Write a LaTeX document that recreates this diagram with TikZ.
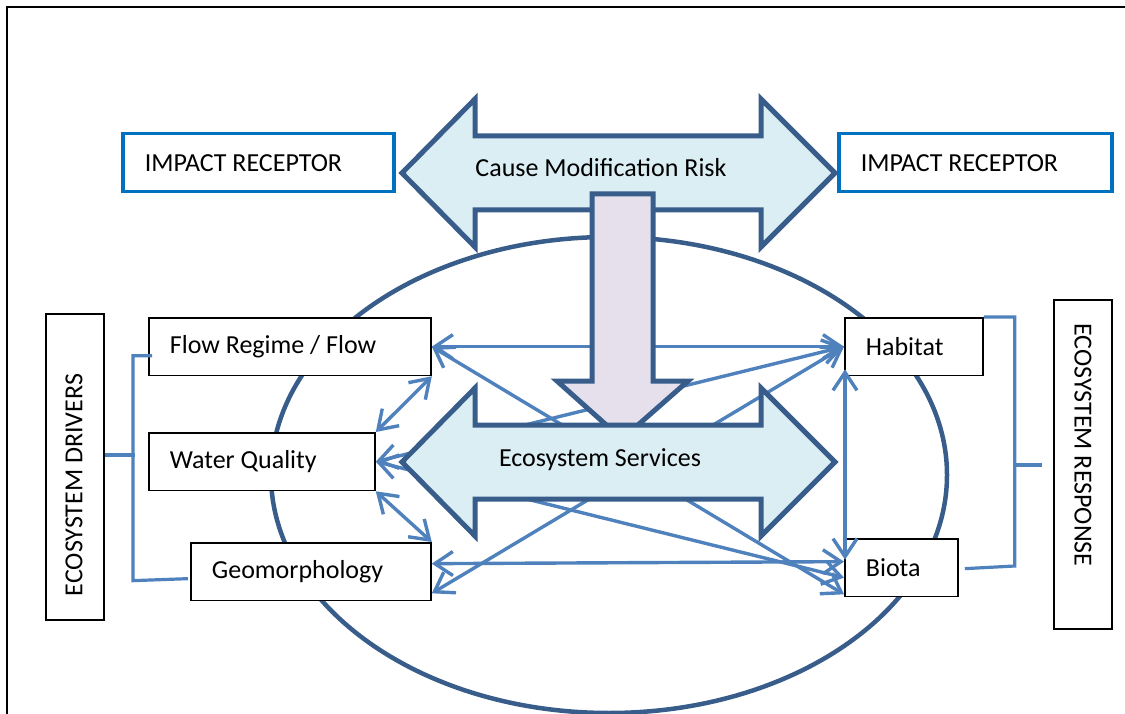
\documentclass[tikz,border=0pt]{standalone}
\usepackage{fontspec}
\setmainfont{Carlito}
\usetikzlibrary{arrows.meta,calc}
\definecolor{linkblue}{RGB}{79,129,189}
\definecolor{shapeline}{RGB}{56,93,138}
\definecolor{servicefill}{RGB}{219,238,244}
\definecolor{pressfill}{RGB}{229,224,236}
\definecolor{receptorblue}{RGB}{0,112,192}

\tikzset{
  factor/.style={draw=black, line width=1.8pt, fill=white, anchor=north west,
    minimum height=57.5pt, inner xsep=21pt, inner ysep=0pt, align=justify},
  receptor/.style={factor, draw=receptorblue, line width=3.5pt, minimum height=58pt, inner xsep=22pt},
  sidebar/.style={draw=black, line width=1.8pt, anchor=north west, inner sep=0pt},
  link/.style={draw=linkblue, line width=3.4pt, <->},
  bracket/.style={draw=linkblue, line width=3.2pt},
  twoway/.pic={
    \draw[shapeline, fill=servicefill, line width=5pt]
      (-216.5,0) -- (-143.5,-74) -- (-143.5,-37) -- (142.5,-37) -- (142.5,-74)
      -- (216.5,0) -- (142.5,74) -- (142.5,37) -- (-143.5,37) -- (-143.5,74) -- cycle;
  }
}

\begin{document}
\begin{tikzpicture}[x=1pt, y=-1pt, font=\fontsize{26}{30}\selectfont,
    >={Straight Barb[length=18pt,width=24pt]}]
  \useasboundingbox (0,0) rectangle (1125,714);
  \clip (0,0) rectangle (1125,714);

  % page frame
  \draw[line width=2.5pt] (7,730) -- (7,7) -- (1140,7);

  % river system
  \draw[shapeline, line width=4.5pt] (609,475) ellipse [x radius=338pt, y radius=238pt];

  % receptors
  \node[receptor, text width=227pt] (recleft) at (121,132) {IMPACT RECEPTOR};
  \node[receptor, text width=229pt] (recright) at (837,132) {IMPACT RECEPTOR};

  % drivers and responses
  \node[factor, text width=240pt] (flow) at (148,317) {Flow Regime / Flow};
  \node[factor, text width=184pt] (quality) at (148,432) {Water Quality};
  \node[factor, text width=198pt] (geo) at (190,542) {Geomorphology};
  \node[factor, text width=96pt] (habitat) at (844,317) {Habitat};
  \node[factor, text width=71pt] (biota) at (844,538) {Biota};

  \node[sidebar, minimum width=58pt, minimum height=306pt] (drivers) at (45,313) {};
  \node[rotate=90] (driverstext) at (74,485) {ECOSYSTEM DRIVERS};
  \node[sidebar, minimum width=58pt, minimum height=329pt] (response) at (1053,299) {};
  \node[rotate=-90] (responsetext) at (1083,445) {ECOSYSTEM RESPONSE};

  % brackets
  \draw[bracket] ($(flow.west)+(4,9)$) -- ++(-19,0) -- ++(0,225) -- ($(geo.west)+(-2,7)$);
  \draw[bracket] ($(drivers.east)+(0,-12)$) -- ++(30,0);
  \draw[bracket] (habitat.north east) -- ++(31,0) -- ++(0,249) -- ($(biota.east)+(6,1)$);
  \draw[bracket] (1013,465) -- ++(29,0);

  % links
  \draw[link] (flow.east) -- (habitat.west);
  \draw[link] (flow.east) -- ($(biota.south west)+(0,-3)$);
  \draw[link] (flow.south east) -- (quality.north east);
  \draw[link] (quality.east) -- (habitat.west);
  \draw[link] (quality.east) -- ($(biota.west)+(0,10)$);
  \draw[link] (quality.south east) -- (geo.north east);
  \draw[link] ($(geo.east)+(0,-8)$) -- ($(biota.west)+(0,-6)$);
  \draw[link] ($(geo.south east)+(0,-8)$) -- (habitat.west);
  \draw[link] ($(habitat.south west)+(1,-7)$) -- ($(biota.west)+(1,-8)$);

  % big arrows
  \pic at (618.5,173) {twoway};
  \node (risk) at (601,168) {Cause Modification Risk};
  \draw[shapeline, fill=pressfill, line width=5pt] (592,194) -- (653,194) -- (653,381)
    -- (688,381) -- (622,439) -- (557,381) -- (592,381) -- cycle;
  \pic at (618.5,462) {twoway};
  \node (services) at (600,460) {Ecosystem Services};
\end{tikzpicture}
\end{document}
